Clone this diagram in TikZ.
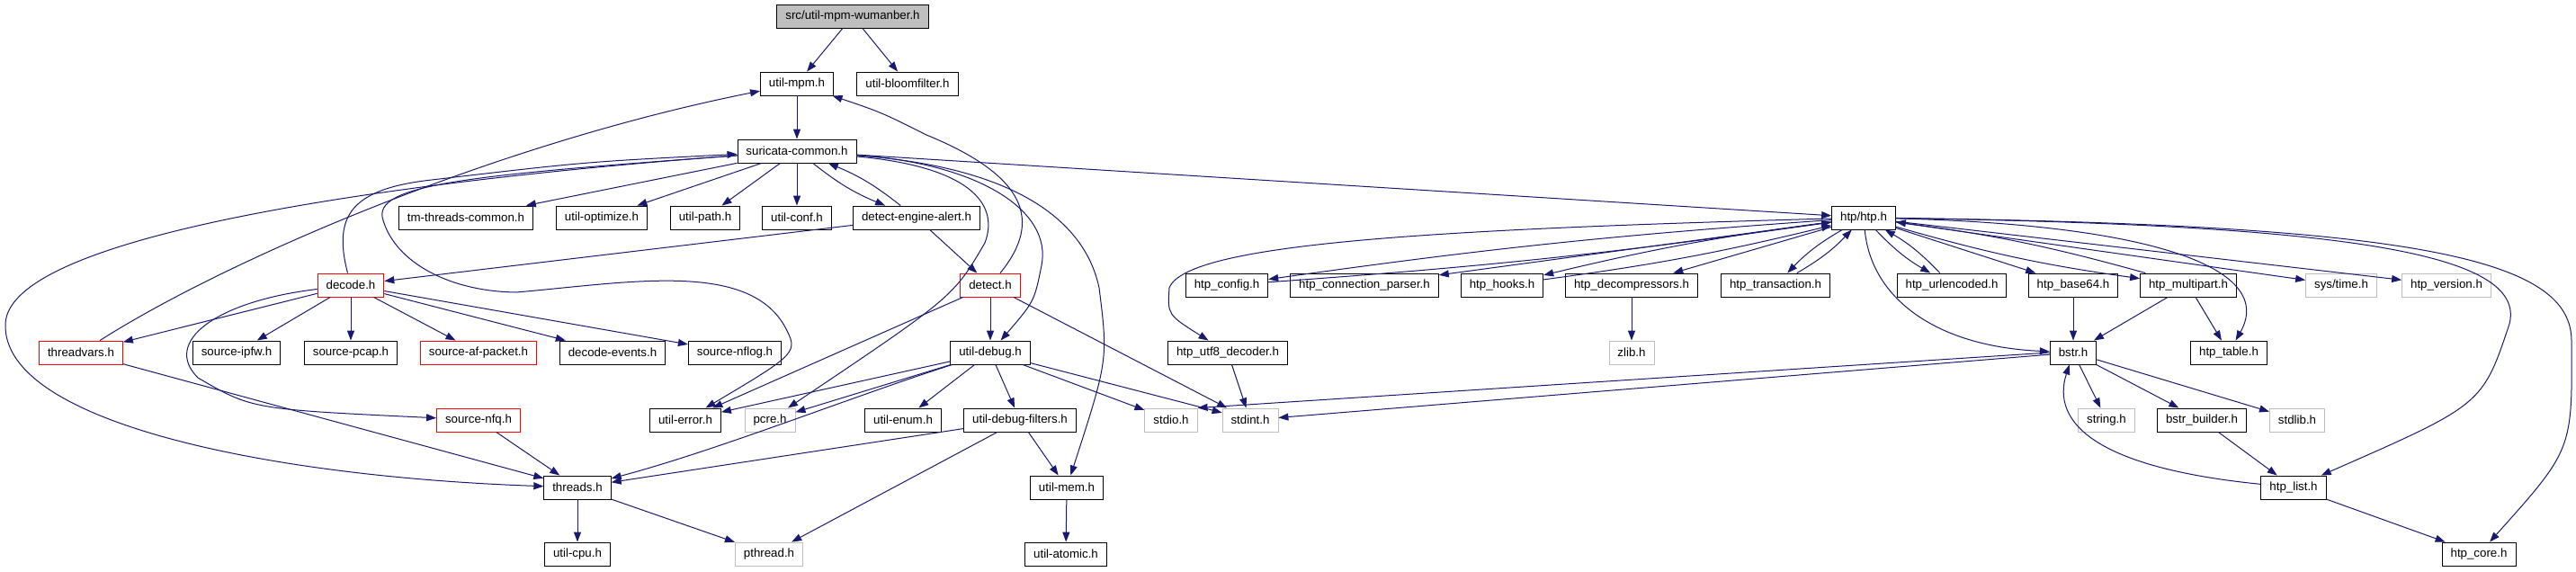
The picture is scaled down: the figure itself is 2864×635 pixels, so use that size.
\documentclass[tikz,border=0pt]{standalone}
\usepackage{fontspec}
\setmainfont{Liberation Sans}
\usetikzlibrary{arrows.meta}
\definecolor{EdgeBlue}{HTML}{191970}
\definecolor{SysGrey}{HTML}{BFBFBF}
\definecolor{TruncRed}{HTML}{FF0000}

\begin{document}
\begin{tikzpicture}[x=1pt, y=-1pt, font=\fontsize{13.3}{15}\selectfont,
    hdr/.style={draw=black, line width=0.9pt, fill=white, inner xsep=9.5pt,
                inner ysep=0pt, minimum height=26pt},
    trunc/.style={hdr, draw=TruncRed},
    sys/.style={hdr, draw=SysGrey},
    root/.style={hdr, fill=SysGrey},
    dep/.style={draw=EdgeBlue, line width=1pt, -{Triangle[length=11pt,width=8pt]}}]
    \useasboundingbox (0,0) rectangle (2864,635);

    % Nodes
    \node[root] (wum) at (948,18) {src/util-mpm-wumanber.h};
    \node[hdr] (mpm) at (886,93) {util-mpm.h};
    \node[hdr] (bloom) at (1009,93) {util-bloomfilter.h};
    \node[hdr] (common) at (886,168) {suricata-common.h};

    \node[hdr] (tmthr) at (518,242) {tm-threads-common.h};
    \node[hdr] (optim) at (669,242) {util-optimize.h};
    \node[hdr] (path) at (784,242) {util-path.h};
    \node[hdr] (conf) at (886,242) {util-conf.h};
    \node[hdr] (alert) at (1019,242) {detect-engine-alert.h};
    \node[hdr] (htp) at (2072,242) {htp/htp.h};

    \node[trunc] (decode) at (390,317) {decode.h};
    \node[trunc] (detect) at (1101,317) {detect.h};
    \node[hdr] (hconfig) at (1364,317) {htp\_config.h};
    \node[hdr] (hconn) at (1517,317) {htp\_connection\_parser.h};
    \node[hdr] (hhooks) at (1670,317) {htp\_hooks.h};
    \node[hdr] (hdecomp) at (1814,317) {htp\_decompressors.h};
    \node[hdr] (htrans) at (1974,317) {htp\_transaction.h};
    \node[hdr] (hurl) at (2170,317) {htp\_urlencoded.h};
    \node[hdr] (hbase) at (2305,317) {htp\_base64.h};
    \node[hdr] (hmulti) at (2433,317) {htp\_multipart.h};
    \node[sys] (systime) at (2603,317) {sys/time.h};
    \node[sys] (hver) at (2720,317) {htp\_version.h};

    \node[trunc] (tvars) at (90,392) {threadvars.h};
    \node[hdr] (ipfw) at (263,392) {source-ipfw.h};
    \node[hdr] (pcap) at (390,392) {source-pcap.h};
    \node[trunc] (afpkt) at (532,392) {source-af-packet.h};
    \node[hdr] (devents) at (681,392) {decode-events.h};
    \node[hdr] (nflog) at (817,392) {source-nflog.h};
    \node[hdr] (debug) at (1101,392) {util-debug.h};
    \node[hdr] (hutf) at (1365,392) {htp\_utf8\_decoder.h};
    \node[sys] (zlib) at (1814,392) {zlib.h};
    \node[hdr] (bstr) at (2305,392) {bstr.h};
    \node[hdr] (htable) at (2478,392) {htp\_table.h};

    \node[trunc] (nfq) at (532,467) {source-nfq.h};
    \node[hdr] (uerr) at (762,467) {util-error.h};
    \node[sys] (pcre) at (856,467) {pcre.h};
    \node[hdr] (uenum) at (1004,467) {util-enum.h};
    \node[hdr] (dfilt) at (1134,467) {util-debug-filters.h};
    \node[sys] (stdio) at (1302,467) {stdio.h};
    \node[sys] (stdint) at (1390,467) {stdint.h};
    \node[sys] (string) at (2342,467) {string.h};
    \node[hdr] (bbuild) at (2448,467) {bstr\_builder.h};
    \node[sys] (stdlib) at (2554,467) {stdlib.h};

    \node[hdr] (threads) at (642,542) {threads.h};
    \node[hdr] (umem) at (1186,542) {util-mem.h};
    \node[hdr] (hlist) at (2550,542) {htp\_list.h};

    \node[hdr] (ucpu) at (642,616) {util-cpu.h};
    \node[sys] (pthread) at (855,616) {pthread.h};
    \node[hdr] (atomic) at (1185,616) {util-atomic.h};
    \node[hdr] (hcore) at (2756,616) {htp\_core.h};

    % Paths
    \draw[dep] (wum) -- (mpm);
    \draw[dep] (wum) -- (bloom);
    \draw[dep] (mpm) -- (common);
    \draw[dep] (common) -- (tmthr);
    \draw[dep] (common) -- (optim);
    \draw[dep] (common) -- (path);
    \draw[dep] (common) -- (conf);
    \draw[dep] (common) to[bend right=8] (alert);
    \draw[dep] (alert) to[bend right=8] (common);
    \draw[dep] (common) -- (htp);
    \draw[dep] (common) .. controls (1075,185) and (1112,225) .. (1095,270) .. controls (1060,330) .. (pcre);
    \draw[dep] (common) .. controls (1090,182) and (1170,235) .. (1158,295) .. controls (1150,335) .. (debug);
    \draw[dep] (common) .. controls (1120,185) and (1205,240) .. (1222,320) .. controls (1232,400) .. (umem);
    \draw[dep] (common) .. controls (520,195) and (412,205) .. (426,245) .. controls (440,292) and (500,324) .. (574,325) .. controls (700,314) and (830,290) .. (872,362) .. controls (888,392) .. (uerr);
    \draw[dep] (common) .. controls (450,200) and (10,260) .. (6,360) .. controls (2,470) and (300,530) .. (threads);
    \draw[dep] (decode) .. controls (370,240) and (390,210) .. (480,200) .. controls (650,180) .. (common);
    \draw[dep] (tvars) .. controls (250,290) and (550,160) .. (mpm);
    \draw[dep] (detect) .. controls (1160,245) and (1140,195) .. (1030,150) .. controls (980,125) .. (mpm);

    \draw[dep] (alert) -- (decode);
    \draw[dep] (alert) -- (detect);
    \draw[dep] (decode) -- (tvars);
    \draw[dep] (decode) -- (ipfw);
    \draw[dep] (decode) -- (pcap);
    \draw[dep] (decode) -- (afpkt);
    \draw[dep] (decode) -- (devents);
    \draw[dep] (decode) -- (nflog);
    \draw[dep] (decode) .. controls (240,335) and (180,380) .. (220,420) .. controls (280,455) .. (nfq);
    \draw[dep] (tvars) -- (threads);
    \draw[dep] (nfq) -- (threads);

    \draw[dep] (detect) -- (debug);
    \draw[dep] (detect) -- (uerr);
    \draw[dep] (detect) -- (stdint);
    \draw[dep] (debug) -- (uerr);
    \draw[dep] (debug) -- (pcre);
    \draw[dep] (debug) .. controls (950,440) and (800,500) .. (threads);
    \draw[dep] (debug) -- (uenum);
    \draw[dep] (debug) -- (dfilt);
    \draw[dep] (debug) -- (stdio);
    \draw[dep] (debug) -- (stdint);
    \draw[dep] (dfilt) -- (threads);
    \draw[dep] (dfilt) -- (pthread);
    \draw[dep] (dfilt) -- (umem);
    \draw[dep] (threads) -- (ucpu);
    \draw[dep] (threads) -- (pthread);
    \draw[dep] (umem) -- (atomic);

    % libhtp side
    \draw[dep] (htp) to[bend right=2] (hconfig);
    \draw[dep] (hconfig) to[bend right=2] (htp);
    \draw[dep] (htp) .. controls (1600,255) and (1320,270) .. (1300,320) .. controls (1298,350) .. (hutf);
    \draw[dep] (htp) -- (hconn);
    \draw[dep] (htp) to[bend right=3] (hhooks);
    \draw[dep] (hhooks) to[bend right=3] (htp);
    \draw[dep] (htp) -- (hdecomp);
    \draw[dep] (htp) to[bend right=8] (htrans);
    \draw[dep] (htrans) to[bend right=8] (htp);
    \draw[dep] (htp) to[bend right=8] (hurl);
    \draw[dep] (hurl) to[bend right=8] (htp);
    \draw[dep] (htp) -- (hbase);
    \draw[dep] (htp) to[bend right=4] (hmulti);
    \draw[dep] (hmulti) to[bend right=4] (htp);
    \draw[dep] (htp) -- (systime);
    \draw[dep] (htp) -- (hver);
    \draw[dep] (htp) .. controls (2400,250) and (2530,300) .. (htable);
    \draw[dep] (htp) .. controls (2600,250) and (2810,280) .. (2790,360) .. controls (2760,450) .. (hlist);
    \draw[dep] (htp) .. controls (2700,250) and (2860,290) .. (2859,380) .. controls (2860,500) .. (hcore);
    \draw[dep] (htp) .. controls (2080,330) and (2150,385) .. (bstr);

    \draw[dep] (hutf) -- (stdint);
    \draw[dep] (hdecomp) -- (zlib);
    \draw[dep] (hbase) -- (bstr);
    \draw[dep] (hmulti) -- (bstr);
    \draw[dep] (hmulti) -- (htable);
    \draw[dep] (bstr.west) -- (stdio.north east);
    \draw[dep] (bstr) -- (stdint);
    \draw[dep] (bstr) -- (string);
    \draw[dep] (bstr) -- (bbuild);
    \draw[dep] (bstr) -- (stdlib);
    \draw[dep] (bbuild) -- (hlist);
    \draw[dep] (hlist) .. controls (2330,520) and (2280,470) .. (bstr);
    \draw[dep] (hlist) -- (hcore);
\end{tikzpicture}
\end{document}
